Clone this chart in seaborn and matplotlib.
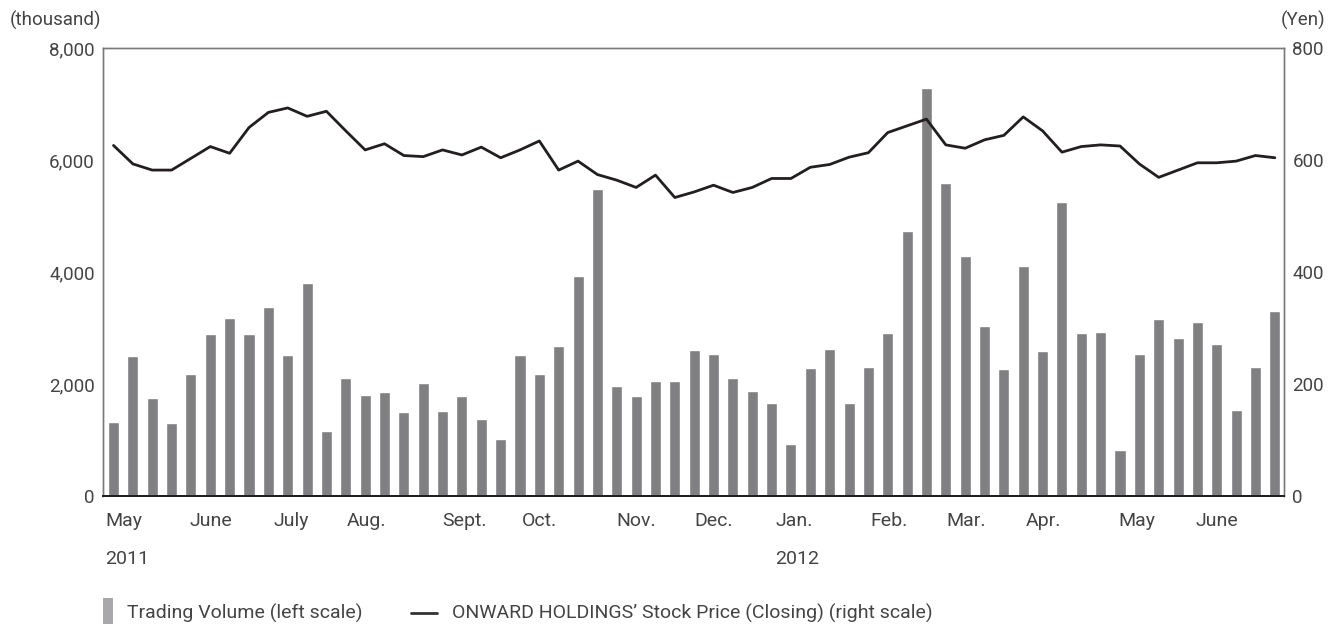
import matplotlib
matplotlib.use("Agg")
import matplotlib.pyplot as plt
from matplotlib.patches import Rectangle
from matplotlib.lines import Line2D
import seaborn as sns
import numpy as np
import pandas as pd

# ---- data (weekly) ----
volume = [1320, 2500, 1755, 1300, 2180, 2890, 3180, 2890, 3375, 2520,
          3800, 1160, 2110, 1800, 1860, 1500, 2020, 1520, 1790, 1375,
          1020, 2520, 2180, 2680, 3930, 5490, 1960, 1790, 2050, 2050,
          2610, 2540, 2110, 1880, 1660, 930, 2290, 2630, 1660, 2300,
          2910, 4730, 7290, 5590, 4290, 3040, 2270, 4110, 2590, 5250,
          2910, 2930, 820, 2540, 3160, 2820, 3110, 2710, 1540, 2300,
          3300]
price = [626, 593, 582, 582, 603, 624, 612, 658, 685, 693,
         678, 687, 652, 618, 629, 608, 606, 618, 609, 623,
         604, 618, 634, 582, 598, 574, 564, 551, 573, 533,
         543, 555, 542, 551, 567, 567, 587, 592, 605, 613,
         649, 661, 673, 627, 621, 636, 644, 677, 652, 614,
         624, 627, 625, 593, 569, 582, 595, 595, 598, 608,
         604]
month_labels = ["May", "June", "July", "Aug.", "Sept.", "Oct.", "Nov.",
                "Dec.", "Jan.", "Feb.", "Mar.", "Apr.", "May", "June"]
month_pos = [-0.44, 3.95, 8.24, 12.06, 16.97, 21.1, 25.96,
             30.03, 34.2, 39.1, 43.05, 47.13, 51.93, 55.9]
year_labels = ["2011", "2012"]
year_pos = [-0.44, 34.2]
left_ticks = [0, 2000, 4000, 6000, 8000]
right_ticks = [0, 200, 400, 600, 800]

df = pd.DataFrame({"week": np.arange(len(volume)), "volume": volume, "price": price})

sns.set_theme(style="white")
plt.rcParams["font.family"] = ["Roboto", "DejaVu Sans"]
TXT = "#444444"
BAR = "#808083"
FS = 14

fig = plt.figure(figsize=(13.29, 6.25), dpi=100)
ax = fig.add_axes([0.0777, 0.2064, 0.8884, 0.7168])

sns.barplot(data=df, x="week", y="volume", color=BAR, saturation=1,
            width=0.57, errorbar=None, ax=ax)
ax2 = ax.twinx()
sns.lineplot(data=df, x="week", y="price", color="#231f20", linewidth=2.0, ax=ax2)

ax.set_xlim(-0.53, 60.47)
ax.set_ylim(0, 8000)
ax2.set_ylim(0, 800)
ax.set_xlabel("")
ax.set_ylabel("")
ax2.set_xlabel("")
ax2.set_ylabel("")

ax.set_yticks(left_ticks)
ax.set_yticklabels([f"{v:,}" for v in left_ticks], color=TXT, fontsize=13.5)
ax2.set_yticks(right_ticks)
ax2.set_yticklabels([f"{v:,}" for v in right_ticks], color=TXT, fontsize=13.5)
ax.tick_params(axis="y", length=0, pad=6)
ax2.tick_params(axis="y", length=0, pad=6)
ax.set_xticks([])
ax2.set_xticks([])

for a in (ax, ax2):
    for s in ("top", "left", "right"):
        a.spines[s].set_color("#7a7a7a")
        a.spines[s].set_linewidth(1.0)
    a.spines["bottom"].set_color("#231f20")
    a.spines["bottom"].set_linewidth(1.4)

trans = ax.get_xaxis_transform()
for lab, p in zip(month_labels, month_pos):
    ax.text(p, -0.055, lab, transform=trans, ha="left", va="center",
            fontsize=FS, color=TXT)
for lab, p in zip(year_labels, year_pos):
    ax.text(p, -0.14, lab, transform=trans, ha="left", va="center",
            fontsize=FS, color=TXT)

fig.text(10 / 1329, 1 - 20 / 625, "(thousand)", ha="left", va="center",
         fontsize=13.5, color=TXT)
fig.text(1325 / 1329, 1 - 20 / 625, "(Yen)", ha="right", va="center",
         fontsize=13.5, color=TXT)

# legend
fig.patches.append(Rectangle((103 / 1329, 1 - 624 / 625), 10 / 1329, 26 / 625,
                             transform=fig.transFigure, color="#a8a8aa", lw=0))
fig.text(127 / 1329, 1 - 613 / 625, "Trading Volume (left scale)", ha="left",
         va="center", fontsize=FS, color=TXT)
fig.lines.append(Line2D([411 / 1329, 437 / 1329], [1 - 613 / 625, 1 - 613 / 625],
                        transform=fig.transFigure, color="#333333", lw=2.0))
fig.text(452 / 1329, 1 - 613 / 625,
         "ONWARD HOLDINGS\u2019 Stock Price (Closing) (right scale)",
         ha="left", va="center", fontsize=FS, color=TXT)

fig.savefig("out.png", dpi=100)
